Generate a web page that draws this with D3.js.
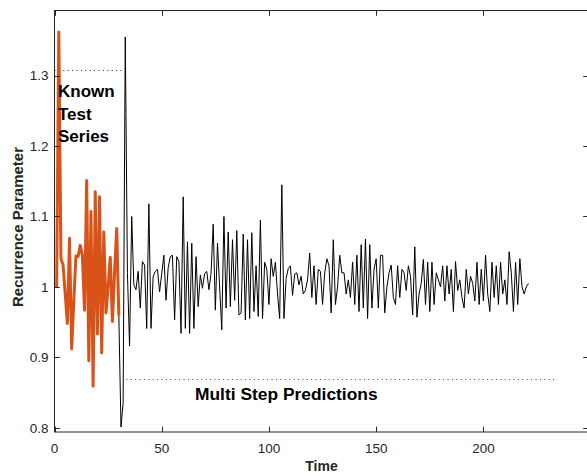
<!DOCTYPE html>
<html>
<head>
<meta charset="utf-8">
<script src="https://cdn.jsdelivr.net/npm/d3@7/dist/d3.min.js"></script>
<style>
  html, body { margin: 0; padding: 0; background: #fff; }
  svg { display: block; font-family: "Liberation Sans", Arial, Helvetica, sans-serif; }
</style>
</head>
<body>
<svg id="chart" width="587" height="476"></svg>
<script>
// ---- data ----
const knownT = d3.range(1, 31);
const knownV = [1.000, 1.362, 1.040, 1.031, 0.990, 0.948, 1.069, 0.912, 0.980, 1.044,
                1.043, 1.059, 1.045, 0.967, 1.151, 0.895, 1.107, 0.859, 1.135, 0.933,
                1.128, 0.906, 1.078, 0.963, 1.000, 1.042, 0.951, 1.020, 1.083, 0.959];

const predT = d3.range(30, 222);
const predV = [
  0.959, 0.801, 0.835, 1.355, 1.020, 0.916, 1.100, 1.003, 0.996, 1.022,
  0.970, 1.036, 1.031, 0.941, 1.118, 0.941, 1.015, 1.022, 1.025, 0.993,
  1.019, 1.045, 0.981, 1.027, 1.043, 1.045, 0.953, 1.043, 1.036, 0.934,
  1.128, 0.941, 1.064, 0.934, 1.062, 0.941, 1.043, 0.972, 1.017, 0.998,
  1.019, 1.022, 0.996, 1.019, 1.089, 0.967, 1.062, 1.000, 0.939, 1.100,
  0.970, 1.078, 0.972, 1.067, 0.981, 1.080, 0.960, 0.963, 1.075, 0.953,
  1.067, 0.955, 1.077, 0.965, 1.030, 0.958, 1.095, 0.955, 1.035, 1.025,
  0.975, 1.040, 1.015, 1.035, 0.990, 0.955, 1.145, 0.955, 1.012, 1.026,
  1.030, 0.988, 1.018, 1.020, 1.003, 1.015, 0.990, 0.995, 1.010, 1.048,
  0.985, 1.030, 0.975, 1.025, 1.022, 0.975, 1.020, 1.040, 1.030, 0.963,
  1.067, 0.975, 1.000, 1.045, 1.020, 1.020, 0.990, 1.010, 0.985, 1.035,
  0.975, 1.045, 0.965, 1.060, 0.970, 1.068, 0.955, 1.060, 0.970, 1.025,
  1.040, 0.970, 1.045, 1.045, 0.963, 1.000, 1.020, 1.031, 0.985, 0.975,
  1.030, 0.985, 1.025, 1.020, 0.995, 1.030, 1.015, 0.960, 1.057, 0.957,
  0.990, 1.005, 1.039, 0.975, 1.035, 0.965, 1.035, 0.975, 1.020, 1.010,
  1.000, 1.030, 0.980, 1.030, 0.990, 1.025, 0.965, 1.036, 0.995, 1.010,
  0.985, 0.970, 1.025, 0.990, 1.015, 1.005, 0.980, 1.035, 0.975, 1.025,
  0.980, 1.045, 0.990, 0.965, 1.035, 0.985, 1.030, 0.975, 1.035, 0.990,
  1.010, 0.975, 1.050, 1.020, 0.965, 1.035, 0.975, 1.040, 1.000, 0.990,
  1.000, 1.005
];

const xTicks = [0, 50, 100, 150, 200];
const yTicks = [0.8, 0.9, 1.0, 1.1, 1.2, 1.3];
const yTickLabels = ["0.8", "0.9", "1", "1.1", "1.2", "1.3"];

const knownRefLevel = 1.3077, knownRefStart = 0, knownRefEnd = 32;
const predRefLevel = 0.869, predRefStart = 33.5, predRefEnd = 233;

const xLabel = "Time";
const yLabel = "Recurrence Parameter";
const knownText = ["Known", "Test", "Series"];
const predText = "Multi Step Predictions";

// ---- layout ----
const L = 54.5, R = 588.5, T = 10.5, B = 432;
const x = d3.scaleLinear().domain([0, 249]).range([L, R]);
const y = d3.scaleLinear().domain([0.7939, 1.3926]).range([B, T]);

const svg = d3.select("#chart");
const axisColor = "#262626";
const tickLen = 5.3;

// reference dotted lines
svg.append("line")
  .attr("x1", x(knownRefStart)).attr("x2", x(knownRefEnd))
  .attr("y1", Math.round(y(knownRefLevel)) + 0.5).attr("y2", Math.round(y(knownRefLevel)) + 0.5)
  .attr("stroke", "#222").attr("stroke-width", 1).attr("stroke-dasharray", "1,3.4");
svg.append("line")
  .attr("x1", x(predRefStart)).attr("x2", x(predRefEnd))
  .attr("y1", Math.round(y(predRefLevel)) + 0.5).attr("y2", Math.round(y(predRefLevel)) + 0.5)
  .attr("stroke", "#444").attr("stroke-width", 1).attr("stroke-dasharray", "1,3.4");

// series
const line = d3.line().x(d => x(d[0])).y(d => y(d[1]));
svg.append("path")
  .datum(predT.map((t, i) => [t, predV[i]]))
  .attr("d", line).attr("fill", "none").attr("stroke", "#000").attr("stroke-width", 1)
  .attr("stroke-linejoin", "round");
svg.append("path")
  .datum(knownT.map((t, i) => [t, knownV[i]]))
  .attr("d", line).attr("fill", "none").attr("stroke", "#D95319").attr("stroke-width", 3)
  .attr("stroke-linejoin", "round");

// axes box
const g = svg.append("g");
g.append("rect").attr("x", L).attr("y", T).attr("width", R - L).attr("height", B - T)
  .attr("fill", "none").attr("stroke", axisColor).attr("stroke-width", 1);

// x ticks (bottom and top, inward)
xTicks.forEach(t => {
  const px = Math.round(x(t)) + 0.5;
  g.append("line").attr("x1", px).attr("x2", px).attr("y1", B).attr("y2", B - tickLen)
    .attr("stroke", axisColor);
  g.append("line").attr("x1", px).attr("x2", px).attr("y1", T).attr("y2", T + tickLen)
    .attr("stroke", axisColor);
  g.append("text").attr("x", x(t)).attr("y", 453).attr("text-anchor", "middle")
    .attr("font-size", 13.5).attr("fill", axisColor).text(String(t));
});
// y ticks (left and right, inward)
yTicks.forEach((v, i) => {
  const py = Math.round(y(v)) + 0.5;
  g.append("line").attr("x1", L).attr("x2", L + tickLen).attr("y1", py).attr("y2", py)
    .attr("stroke", axisColor);
  g.append("line").attr("x1", R).attr("x2", R - tickLen).attr("y1", py).attr("y2", py)
    .attr("stroke", axisColor);
  g.append("text").attr("x", 48.5).attr("y", y(v) + 4.8).attr("text-anchor", "end")
    .attr("font-size", 13.5).attr("fill", axisColor).text(yTickLabels[i]);
});

// axis labels
svg.append("text").attr("x", (L + R) / 2).attr("y", 471).attr("text-anchor", "middle")
  .attr("font-size", 14).attr("font-weight", "bold").attr("fill", axisColor).text(xLabel);
svg.append("text").attr("transform", `translate(22.5, 227) rotate(-90)`)
  .attr("text-anchor", "middle").attr("font-size", 15).attr("font-weight", "bold")
  .attr("fill", axisColor).text(yLabel);

// annotations
knownText.forEach((s, i) => {
  svg.append("text").attr("x", 58).attr("y", 97 + i * 22.5)
    .attr("font-size", 17).attr("font-weight", "bold").attr("fill", "#000").text(s);
});
svg.append("text").attr("x", 195).attr("y", 400)
  .attr("font-size", 17.4).attr("font-weight", "bold").attr("fill", "#000").text(predText);
</script>
</body>
</html>
